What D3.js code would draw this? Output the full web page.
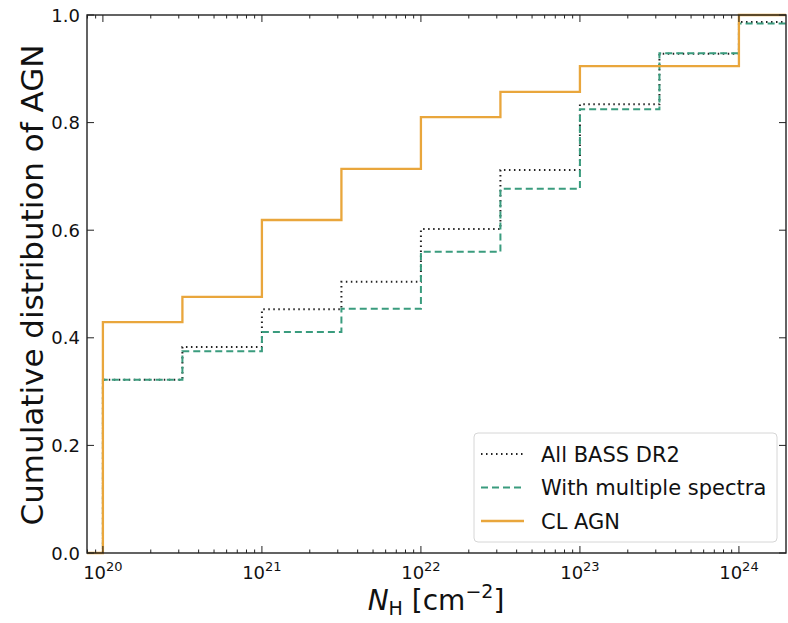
<!DOCTYPE html>
<html>
<head>
<meta charset="utf-8">
<script src="https://cdn.jsdelivr.net/npm/d3@7"></script>
<style>
  html, body { margin: 0; padding: 0; background: #fff; }
  svg { display: block; font-family: "DejaVu Sans", sans-serif; }
</style>
</head>
<body>
<svg id="chart" width="788" height="623"></svg>
<script>
// Bin edges in log10(N_H / cm^-2)
const binEdges = [20, 20.5, 21, 21.5, 22, 22.5, 23, 23.5, 24];

// Cumulative fractions reached at each edge
const allBass   = [0.322, 0.383, 0.453, 0.504, 0.602, 0.712, 0.834, 0.928, 0.987];
const multiSpec = [0.322, 0.375, 0.411, 0.454, 0.560, 0.677, 0.825, 0.929, 0.984];
const clAgn     = [0.429, 0.476, 0.619, 0.714, 0.810, 0.857, 0.905, 0.905, 1.000];

const seriesNames = ["All BASS DR2", "With multiple spectra", "CL AGN"];
const xTickExps = [20, 21, 22, 23, 24];
const yTicks = [0.0, 0.2, 0.4, 0.6, 0.8, 1.0];

const svg = d3.select("#chart");
const m = { left: 87, right: 786, top: 15, bottom: 553 };
const logMin = 19.9, logMax = 24.296;

const x = d3.scaleLog().domain([Math.pow(10, logMin), Math.pow(10, logMax)]).range([m.left, m.right]);
const y = d3.scaleLinear().domain([0, 1]).range([m.bottom, m.top]);

const styles = [
  { color: "#222222", dash: "1.5,3.5", width: 2 },
  { color: "#3a9c7e", dash: "7,4", width: 2 },
  { color: "#e9a63c", dash: null, width: 2.3 }
];
const data = [allBass, multiSpec, clAgn];

// clip to plot area
svg.append("defs").append("clipPath").attr("id", "clip")
  .append("rect").attr("x", m.left).attr("y", m.top - 2)
  .attr("width", m.right - m.left).attr("height", m.bottom - m.top + 4);

const line = d3.line()
  .x(d => x(d[0]))
  .y(d => y(d[1]))
  .curve(d3.curveStepAfter);

const plot = svg.append("g").attr("clip-path", "url(#clip)");
data.forEach((vals, i) => {
  const pts = [[Math.pow(10, logMin), 0]];
  binEdges.forEach((e, j) => pts.push([Math.pow(10, e), vals[j]]));
  pts.push([Math.pow(10, logMax), vals[vals.length - 1]]);
  plot.append("path")
    .datum(pts)
    .attr("d", line)
    .attr("fill", "none")
    .attr("stroke", styles[i].color)
    .attr("stroke-width", styles[i].width)
    .attr("stroke-dasharray", styles[i].dash);
});

// frame
svg.append("rect")
  .attr("x", m.left).attr("y", m.top)
  .attr("width", m.right - m.left).attr("height", m.bottom - m.top)
  .attr("fill", "none").attr("stroke", "#222").attr("stroke-width", 1.4);

// ticks (inward on all four sides)
const tickG = svg.append("g").attr("stroke", "#222").attr("stroke-width", 1);
const minorVals = [];
for (let e = 19; e <= 24; e++) {
  for (let k = 2; k <= 9; k++) {
    const v = k * Math.pow(10, e);
    if (Math.log10(v) > logMin && Math.log10(v) < logMax) minorVals.push(v);
  }
}
minorVals.forEach(v => {
  const px = x(v);
  tickG.append("line").attr("x1", px).attr("x2", px).attr("y1", m.bottom).attr("y2", m.bottom - 3.5);
  tickG.append("line").attr("x1", px).attr("x2", px).attr("y1", m.top).attr("y2", m.top + 3.5);
});
xTickExps.forEach(e => {
  const px = x(Math.pow(10, e));
  tickG.append("line").attr("x1", px).attr("x2", px).attr("y1", m.bottom).attr("y2", m.bottom - 7);
  tickG.append("line").attr("x1", px).attr("x2", px).attr("y1", m.top).attr("y2", m.top + 7);
});
yTicks.forEach(t => {
  const py = y(t);
  tickG.append("line").attr("x1", m.left).attr("x2", m.left + 7).attr("y1", py).attr("y2", py);
  tickG.append("line").attr("x1", m.right).attr("x2", m.right - 7).attr("y1", py).attr("y2", py);
});

// x tick labels with superscript exponents
xTickExps.forEach(e => {
  const t = svg.append("text")
    .attr("x", x(Math.pow(10, e)))
    .attr("y", 579)
    .attr("text-anchor", "middle")
    .attr("font-size", 18)
    .attr("fill", "#111");
  t.append("tspan").text("10");
  t.append("tspan").attr("dy", -8).attr("font-size", 13).text(String(e));
});

// y tick labels
yTicks.forEach(v => {
  svg.append("text")
    .attr("x", 80).attr("y", y(v) + 6.5)
    .attr("text-anchor", "end")
    .attr("font-size", 18)
    .attr("fill", "#111")
    .text(v.toFixed(1));
});

// axis titles
svg.append("text")
  .attr("transform", "translate(43,285) rotate(-90)")
  .attr("text-anchor", "middle")
  .attr("font-size", 31)
  .attr("fill", "#111")
  .text("Cumulative distribution of AGN");

const xl = svg.append("text")
  .attr("x", 436).attr("y", 610)
  .attr("text-anchor", "middle")
  .attr("font-size", 28)
  .attr("fill", "#111");
xl.append("tspan").attr("font-style", "italic").text("N");
xl.append("tspan").attr("dy", 5).attr("font-size", 19).text("H");
xl.append("tspan").attr("dy", -5).text(" [cm");
xl.append("tspan").attr("dy", -12).attr("font-size", 19).text("\u22122");
xl.append("tspan").attr("dy", 12).text("]");

// legend
const lg = svg.append("g");
lg.append("rect")
  .attr("x", 474).attr("y", 433).attr("width", 303).attr("height", 109)
  .attr("rx", 4).attr("fill", "#fff").attr("fill-opacity", 0.85)
  .attr("stroke", "#d6d6d6").attr("stroke-width", 1);
seriesNames.forEach((name, i) => {
  const ly = 454 + i * 33.5;
  lg.append("line")
    .attr("x1", 481).attr("x2", 524).attr("y1", ly).attr("y2", ly)
    .attr("stroke", styles[i].color)
    .attr("stroke-width", styles[i].width)
    .attr("stroke-dasharray", styles[i].dash);
  lg.append("text")
    .attr("x", 541).attr("y", ly + 7.5)
    .attr("font-size", 21)
    .attr("fill", "#111")
    .text(name);
});
</script>
</body>
</html>
